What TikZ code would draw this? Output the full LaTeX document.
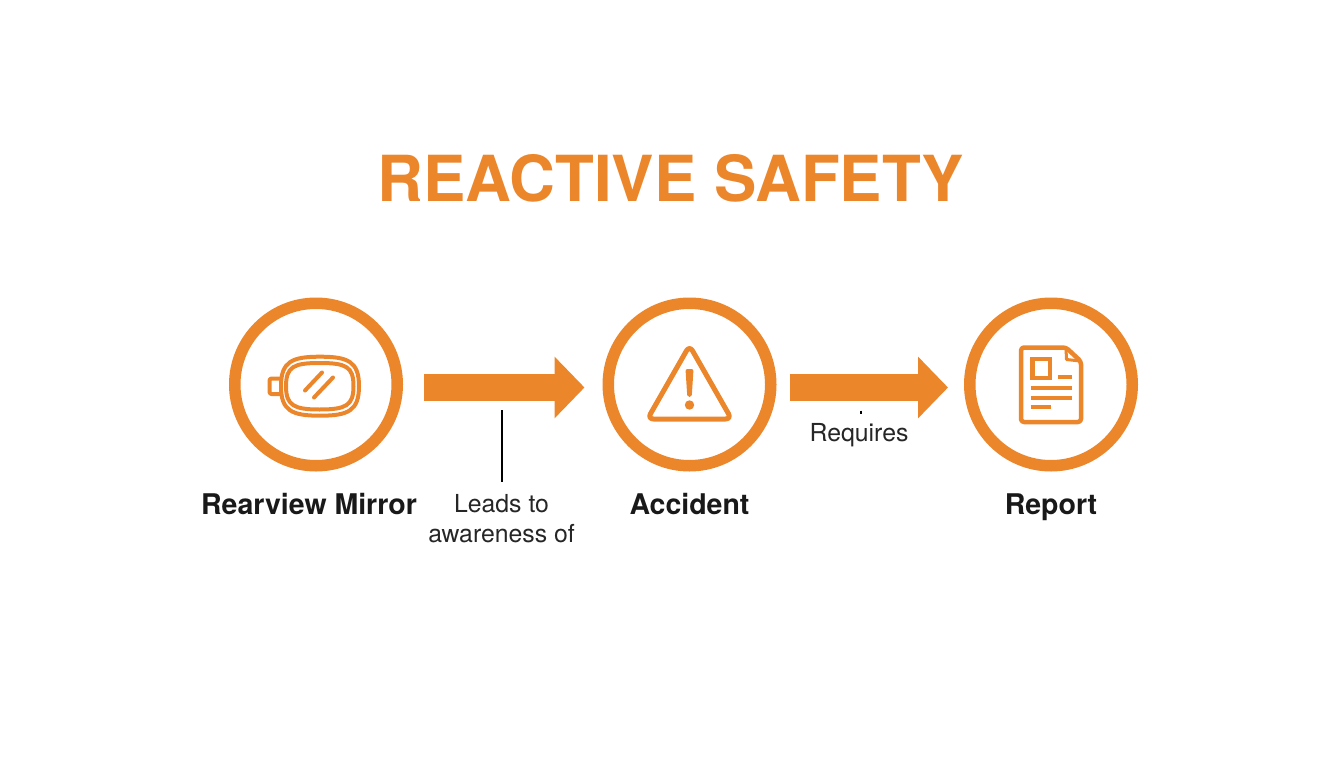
\documentclass[tikz,border=0pt]{standalone}
\usepackage{fontspec}
\setmainfont{TeX Gyre Heros}
\usetikzlibrary{arrows.meta}
\definecolor{safetyorange}{HTML}{EC862B}

\begin{document}
\begin{tikzpicture}[x=1pt,y=1pt,node distance=120.5pt,semithick]

    \tikzstyle{every node}=[inner sep=0pt]
    \tikzstyle{ring}=[circle,draw=safetyorange,line width=11.5pt,minimum size=162.5pt,fill=white]
    \tikzstyle{icon}=[draw=safetyorange,line width=4pt,line cap=round,line join=round]
    \tikzstyle{bigarrow}=[draw=safetyorange,line width=27pt,-{Triangle[length=30pt,width=60pt]}]
    \tikzstyle{stepname}=[font=\bfseries\fontsize{28.5}{32}\selectfont,text=black!90,text height=19pt,text depth=6pt]
    \tikzstyle{stepnote}=[font=\fontsize{24.8}{29.5}\selectfont,text=black!85,align=center]

    \useasboundingbox (0,0) rectangle (1344,-768);
    \fill[white] (0,0) rectangle (1344,-768);

    \node[font=\bfseries\fontsize{63.5}{70}\selectfont,text=safetyorange] (title) at (671,-178) {REACTIVE SAFETY};

    \node[ring] (mirror)   at (316,-384.5)  {};
    \node[ring] (accident) [right of=mirror,node distance=373.5pt]   {};
    \node[ring] (report)   [right of=accident,node distance=361.5pt] {};

    \node[stepname] (mirrorname)   [below of=mirror,xshift=-7pt,yshift=-3pt]   {Rearview Mirror};
    \node[stepname] (accidentname) [below of=accident,yshift=-3pt]             {Accident};
    \node[stepname] (reportname)   [below of=report,yshift=-3pt]               {Report};

    \node[stepnote] (leads)    at (501.5,-518.5) {Leads to\\awareness of};
    \node[stepnote] (requires) at (859,-435)     {Requires};

    \coordinate (leadstop)    at (502,-410);
    \coordinate (requirestop) at (860.5,-410.5);

    \path
    ([yshift=-3pt]mirror.east)    edge[bigarrow,shorten <=21pt,shorten >=18pt] ([yshift=-3pt]accident.west)
    ([yshift=-3pt]accident.east)  edge[bigarrow,shorten <=13pt,shorten >=16pt] ([yshift=-3pt]report.west)
    ;

    \draw[line width=2pt,black,shorten >=12pt] (leadstop) -- (leadstop |- leads.north);
    \draw[line width=2pt,black] (requirestop) -- ++(0,-3.5);

    % mirror
    \begin{scope}[shift={(mirror.center)}]
        \draw[icon] (-35,-1.7) .. controls (-35,23) and (-24,27.8) .. (4,27.8)
            .. controls (32,27.8) and (43,23) .. (43,-1.7)
            .. controls (43,-26.4) and (32,-31.2) .. (4,-31.2)
            .. controls (-24,-31.2) and (-35,-26.4) .. (-35,-1.7) -- cycle;
        \draw[icon] (-30,-1.7) .. controls (-30,18) and (-22,21.5) .. (3.5,21.5)
            .. controls (30,21.5) and (37.5,18) .. (37.5,-1.7)
            .. controls (37.5,-21) and (30,-25) .. (3.5,-25)
            .. controls (-22,-25) and (-30,-21) .. (-30,-1.7) -- cycle;
        \draw[icon,rounded corners=2pt] (-35,6) -- (-46.5,6) -- (-46.5,-9.5) -- (-35,-9.5);
        \draw[icon] (-11,-6) -- (6,12);
        \draw[icon] (-2,-13) -- (17,7);
    \end{scope}

    % warning
    \begin{scope}[shift={(accident.center)}]
        \draw[icon,line width=5pt,rounded corners=6pt] (0,39) -- (42,-34.5) -- (-42,-34.5) -- cycle;
        \fill[safetyorange,rounded corners=2pt] (-4,15.5) -- (4,15.5) -- (2.2,-12.5) -- (-2.2,-12.5) -- cycle;
        \fill[safetyorange] (0,-20.5) circle (4.7);
    \end{scope}

    % document
    \begin{scope}[shift={(report.center)}]
        \draw[icon,line width=4.5pt,rounded corners=3pt] (-30,37) -- (15,37) -- (30,23) -- (30,-37.5) -- (-30,-37.5) -- cycle;
        \draw[icon,line width=3pt] (15,36) -- (15.5,25) -- (29,23.5);
        \draw[icon,line width=4.5pt,line cap=butt,line join=miter] (-18.5,25.5) rectangle (-1,6.5);
        \draw[icon,line cap=butt] (6.7,7.2) -- (20.7,7.2);
        \draw[icon,line cap=butt] (-20.3,-3.5) -- (20.7,-3.5);
        \draw[icon,line cap=butt] (-20.3,-13.2) -- (20.7,-13.2);
        \draw[icon,line cap=butt] (-20.3,-22.8) -- (0,-22.8);
    \end{scope}

\end{tikzpicture}
\end{document}
